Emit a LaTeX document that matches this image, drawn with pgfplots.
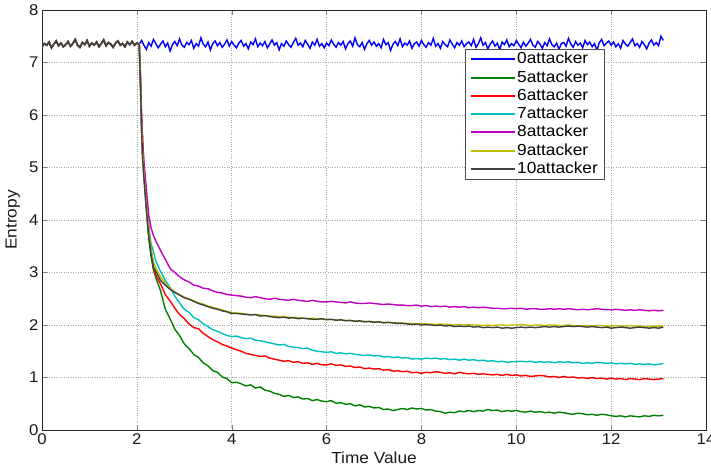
\documentclass[border=0pt]{standalone}
\usepackage{pgfplots}
\pgfplotsset{compat=1.18}
\usepackage{fontspec}
\setmainfont{Liberation Sans}
\newfontfamily\lblfont[FakeStretch=1.08]{Liberation Sans}
\definecolor{mblue}{rgb}{0,0,1}
\definecolor{mgreen}{rgb}{0,0.5,0}
\definecolor{mred}{rgb}{1,0,0}
\definecolor{mcyan}{rgb}{0,0.75,0.75}
\definecolor{mmag}{rgb}{0.75,0,0.75}
\definecolor{myel}{rgb}{0.75,0.75,0}
\definecolor{mblk}{rgb}{0.25,0.25,0.25}
\pgfplotstableread{
x y
0.00 7.30
0.05 7.36
0.10 7.33
0.15 7.39
0.20 7.28
0.25 7.35
0.30 7.41
0.35 7.32
0.40 7.37
0.45 7.30
0.50 7.34
0.55 7.40
0.60 7.31
0.65 7.36
0.70 7.44
0.75 7.33
0.80 7.29
0.85 7.38
0.90 7.34
0.95 7.42
1.00 7.31
1.05 7.37
1.10 7.33
1.15 7.39
1.20 7.30
1.25 7.36
1.30 7.43
1.35 7.32
1.40 7.38
1.45 7.35
1.50 7.29
1.55 7.37
1.60 7.41
1.65 7.33
1.70 7.36
1.75 7.30
1.80 7.39
1.85 7.34
1.90 7.40
1.95 7.33
2.00 7.37
2.05 7.35
}\flat
\begin{document}
\begin{tikzpicture}
\useasboundingbox (-42pt,-45pt) rectangle (669pt,430pt);
\begin{axis}[
  scale only axis, width=664pt, height=420pt,
  xmin=0, xmax=14, ymin=0, ymax=8,
  xtick={0,2,...,14}, ytick={0,1,...,8},
  tick pos=both, tick align=inside, major tick length=5pt,
  grid=major, grid style={dotted, gray!70, line width=0.6pt},
  axis line style={black!85, line width=0.8pt},
  /pgf/number format/assume math mode=true,
  tick label style={font=\lblfont\fontsize{15.5}{18}\selectfont, black!90},
  label style={font=\lblfont\fontsize{16}{18}\selectfont, black!90},
  xlabel={Time Value}, ylabel={Entropy},
  xlabel style={at={(axis description cs:0.5,-0.065)}, anchor=center},
  ylabel style={at={(axis description cs:-0.044,0.5)}, anchor=center},
  legend style={at={(0.637,0.907)}, anchor=north west, draw=black!70, fill=white,
    font=\lblfont\fontsize{16}{18}\selectfont, inner xsep=5pt, inner ysep=1.5pt, row sep=1.3pt,
    nodes={inner sep=1pt, text height=12pt, text depth=3pt}},
  legend cell align=left,
  legend image code/.code={\draw[#1, line width=2pt] (0pt,0pt) -- (44pt,0pt);},
  every axis plot/.append style={line width=1.4pt},
]
% 0 attacker
\addplot[mblue] table {\flat};
\addplot[mblue, forget plot] coordinates {
(2.05,7.35)(2.10,7.42)(2.15,7.33)(2.20,7.25)(2.25,7.38)(2.30,7.31)(2.35,7.44)(2.40,7.36)(2.45,7.28)
(2.50,7.35)(2.55,7.41)(2.60,7.30)(2.65,7.37)(2.70,7.22)(2.75,7.34)(2.80,7.40)(2.85,7.32)(2.90,7.45)(2.95,7.33)
(3.00,7.29)(3.05,7.38)(3.10,7.34)(3.15,7.42)(3.20,7.27)(3.25,7.36)(3.30,7.31)(3.35,7.47)(3.40,7.35)(3.45,7.30)
(3.50,7.39)(3.55,7.24)(3.60,7.36)(3.65,7.41)(3.70,7.32)(3.75,7.38)(3.80,7.29)(3.85,7.35)(3.90,7.43)(3.95,7.31)
(4.00,7.40)(4.05,7.33)(4.10,7.28)(4.15,7.37)(4.20,7.42)(4.25,7.31)(4.30,7.36)(4.35,7.26)(4.40,7.39)(4.45,7.34)
(4.50,7.45)(4.55,7.30)(4.60,7.37)(4.65,7.32)(4.70,7.40)(4.75,7.28)(4.80,7.35)(4.85,7.43)(4.90,7.33)(4.95,7.38)
(5.00,7.24)(5.05,7.36)(5.10,7.31)(5.15,7.41)(5.20,7.34)(5.25,7.29)(5.30,7.38)(5.35,7.46)(5.40,7.33)(5.45,7.37)
(5.50,7.30)(5.55,7.42)(5.60,7.35)(5.65,7.27)(5.70,7.39)(5.75,7.33)(5.80,7.44)(5.85,7.31)(5.90,7.36)(5.95,7.28)
(6.00,7.37)(6.05,7.32)(6.10,7.43)(6.15,7.35)(6.20,7.29)(6.25,7.38)(6.30,7.33)(6.35,7.40)(6.40,7.26)(6.45,7.36)
(6.50,7.41)(6.55,7.31)(6.60,7.47)(6.65,7.34)(6.70,7.30)(6.75,7.38)(6.80,7.25)(6.85,7.36)(6.90,7.42)(6.95,7.33)
(7.00,7.39)(7.05,7.31)(7.10,7.36)(7.15,7.28)(7.20,7.44)(7.25,7.34)(7.30,7.38)(7.35,7.23)(7.40,7.35)(7.45,7.40)
(7.50,7.32)(7.55,7.45)(7.60,7.30)(7.65,7.37)(7.70,7.33)(7.75,7.41)(7.80,7.27)(7.85,7.36)(7.90,7.39)(7.95,7.31)
(8.00,7.42)(8.05,7.34)(8.10,7.29)(8.15,7.38)(8.20,7.33)(8.25,7.46)(8.30,7.31)(8.35,7.36)(8.40,7.27)(8.45,7.40)
(8.50,7.34)(8.55,7.30)(8.60,7.43)(8.65,7.35)(8.70,7.28)(8.75,7.38)(8.80,7.33)(8.85,7.41)(8.90,7.30)(8.95,7.36)
(9.00,7.39)(9.05,7.32)(9.10,7.44)(9.15,7.29)(9.20,7.36)(9.25,7.47)(9.30,7.33)(9.35,7.38)(9.40,7.26)(9.45,7.35)
(9.50,7.41)(9.55,7.31)(9.60,7.37)(9.65,7.24)(9.70,7.39)(9.75,7.34)(9.80,7.43)(9.85,7.30)(9.90,7.36)(9.95,7.32)
(10.00,7.42)(10.05,7.35)(10.10,7.28)(10.15,7.39)(10.20,7.31)(10.25,7.37)(10.30,7.44)(10.35,7.33)(10.40,7.29)(10.45,7.40)
(10.50,7.35)(10.55,7.27)(10.60,7.38)(10.65,7.32)(10.70,7.45)(10.75,7.34)(10.80,7.30)(10.85,7.37)(10.90,7.25)(10.95,7.36)
(11.00,7.38)(11.05,7.31)(11.10,7.46)(11.15,7.35)(11.20,7.29)(11.25,7.40)(11.30,7.33)(11.35,7.37)(11.40,7.28)(11.45,7.42)
(11.50,7.34)(11.55,7.39)(11.60,7.30)(11.65,7.36)(11.70,7.23)(11.75,7.38)(11.80,7.44)(11.85,7.32)(11.90,7.37)(11.95,7.41)
(12.00,7.33)(12.05,7.39)(12.10,7.30)(12.15,7.36)(12.20,7.27)(12.25,7.42)(12.30,7.35)(12.35,7.31)(12.40,7.38)(12.45,7.45)
(12.50,7.32)(12.55,7.36)(12.60,7.29)(12.65,7.40)(12.70,7.34)(12.75,7.26)(12.80,7.37)(12.85,7.43)(12.90,7.33)(12.95,7.38)
(13.00,7.32)(13.05,7.50)(13.10,7.42)
};
\addlegendentry{0attacker}
% 5 attacker
\addplot[mgreen] table {\flat};
\addplot[mgreen, forget plot] coordinates {
(2.05,7.35)(2.08,6.4)(2.1,5.7)(2.12,5.2)(2.15,4.8)(2.2,4.2)(2.25,3.65)(2.3,3.30)(2.35,3.05)(2.4,2.90)(2.5,2.65)
(2.6,2.30)(2.7,2.12)(2.8,1.92)(2.9,1.80)(3.0,1.64)(3.1,1.55)(3.2,1.44)(3.3,1.38)(3.4,1.28)(3.5,1.22)
(3.6,1.13)(3.7,1.10)(3.8,1.01)(3.9,0.98)(4.0,0.90)(4.1,0.91)
(4.2,0.88)(4.3,0.84)(4.4,0.86)(4.5,0.80)(4.6,0.82)(4.7,0.76)(4.8,0.74)(4.9,0.70)(5.0,0.68)(5.1,0.64)
(5.2,0.66)(5.3,0.62)(5.4,0.63)(5.5,0.59)(5.6,0.60)(5.7,0.56)(5.8,0.58)(5.9,0.55)(6.0,0.54)(6.1,0.56)
(6.2,0.51)(6.3,0.52)(6.4,0.49)(6.5,0.50)(6.6,0.46)(6.7,0.48)(6.8,0.44)(6.9,0.45)(7.0,0.42)(7.1,0.43)
(7.2,0.39)(7.3,0.40)(7.4,0.37)(7.5,0.39)(7.6,0.41)(7.7,0.39)(7.8,0.42)(7.9,0.40)(8.0,0.41)(8.1,0.38)
(8.2,0.39)(8.3,0.36)(8.4,0.35)(8.5,0.32)(8.6,0.34)(8.7,0.33)(8.8,0.36)(8.9,0.35)(9.0,0.37)(9.1,0.35)
(9.2,0.37)(9.3,0.36)(9.4,0.39)(9.5,0.37)(9.6,0.38)(9.7,0.35)(9.8,0.37)(9.9,0.36)(10.0,0.37)(10.1,0.35)
(10.2,0.34)(10.3,0.36)(10.4,0.34)(10.5,0.35)(10.6,0.33)(10.7,0.34)(10.8,0.32)(10.9,0.34)(11.0,0.33)(11.1,0.31)
(11.2,0.30)(11.3,0.32)(11.4,0.31)(11.5,0.29)(11.6,0.30)(11.7,0.28)(11.8,0.30)(11.9,0.29)(12.0,0.27)(12.1,0.26)
(12.2,0.27)(12.3,0.25)(12.4,0.27)(12.5,0.26)(12.6,0.25)(12.7,0.27)(12.8,0.26)(12.9,0.28)(13.0,0.27)(13.1,0.28)
};
\addlegendentry{5attacker}
% 6 attacker
\addplot[mred] table {\flat};
\addplot[mred, forget plot] coordinates {
(2.05,7.35)(2.08,6.6)(2.1,5.9)(2.12,5.6)(2.15,5.0)(2.2,4.5)(2.25,3.9)(2.3,3.45)(2.35,3.10)(2.4,2.95)(2.5,2.78)
(2.6,2.58)(2.7,2.46)(2.8,2.32)(2.9,2.20)(3.0,2.12)(3.1,2.02)(3.2,1.95)(3.3,1.93)(3.4,1.84)(3.5,1.78)
(3.6,1.72)(3.7,1.68)(3.8,1.63)(3.9,1.60)(4.0,1.56)(4.1,1.53)
(4.2,1.50)(4.3,1.46)(4.4,1.44)(4.5,1.42)(4.6,1.40)(4.7,1.41)(4.8,1.37)(4.9,1.35)(5.0,1.33)(5.1,1.31)
(5.2,1.32)(5.3,1.29)(5.4,1.30)(5.5,1.27)(5.6,1.28)(5.7,1.25)(5.8,1.27)(5.9,1.24)(6.0,1.24)(6.1,1.26)
(6.2,1.23)(6.3,1.24)(6.4,1.21)(6.5,1.22)(6.6,1.19)(6.7,1.20)(6.8,1.17)(6.9,1.18)(7.0,1.16)(7.1,1.17)
(7.2,1.14)(7.3,1.15)(7.4,1.12)(7.5,1.13)(7.6,1.11)(7.7,1.12)(7.8,1.09)(7.9,1.10)(8.0,1.08)(8.1,1.10)
(8.2,1.09)(8.3,1.11)(8.4,1.10)(8.5,1.08)(8.6,1.09)(8.7,1.07)(8.8,1.10)(8.9,1.08)(9.0,1.07)(9.1,1.08)
(9.2,1.06)(9.3,1.07)(9.4,1.06)(9.5,1.05)(9.6,1.06)(9.7,1.04)(9.8,1.06)(9.9,1.04)(10.0,1.05)(10.1,1.03)
(10.2,1.04)(10.3,1.02)(10.4,1.03)(10.5,1.04)(10.6,1.03)(10.7,1.01)(10.8,1.02)(10.9,1.00)(11.0,1.02)(11.1,1.00)
(11.2,1.01)(11.3,0.99)(11.4,1.00)(11.5,0.98)(11.6,1.00)(11.7,0.98)(11.8,0.99)(11.9,0.97)(12.0,0.99)(12.1,0.97)
(12.2,0.98)(12.3,0.96)(12.4,0.98)(12.5,0.97)(12.6,0.96)(12.7,0.98)(12.8,0.97)(12.9,0.96)(13.0,0.97)(13.1,0.98)
};
\addlegendentry{6attacker}
% 7 attacker
\addplot[mcyan] table {\flat};
\addplot[mcyan, forget plot] coordinates {
(2.05,7.35)(2.08,6.5)(2.1,5.8)(2.12,5.3)(2.15,4.9)(2.2,4.35)(2.25,3.85)(2.3,3.55)(2.35,3.40)(2.4,3.22)(2.5,3.02)
(2.6,2.85)(2.7,2.72)(2.8,2.55)(2.9,2.42)(3.0,2.30)(3.1,2.24)(3.2,2.14)(3.3,2.10)(3.4,2.02)(3.5,1.97)
(3.6,1.91)(3.7,1.88)(3.8,1.84)(3.9,1.80)(4.0,1.78)(4.1,1.79)
(4.2,1.76)(4.3,1.74)(4.4,1.75)(4.5,1.71)(4.6,1.70)(4.7,1.68)(4.8,1.66)(4.9,1.64)(5.0,1.62)(5.1,1.63)
(5.2,1.59)(5.3,1.58)(5.4,1.57)(5.5,1.55)(5.6,1.56)(5.7,1.52)(5.8,1.50)(5.9,1.49)(6.0,1.48)(6.1,1.49)
(6.2,1.46)(6.3,1.47)(6.4,1.45)(6.5,1.46)(6.6,1.44)(6.7,1.43)(6.8,1.42)(6.9,1.43)(7.0,1.41)(7.1,1.42)
(7.2,1.39)(7.3,1.40)(7.4,1.38)(7.5,1.39)(7.6,1.37)(7.7,1.38)(7.8,1.35)(7.9,1.36)(8.0,1.35)(8.1,1.37)
(8.2,1.36)(8.3,1.37)(8.4,1.35)(8.5,1.36)(8.6,1.34)(8.7,1.35)(8.8,1.33)(8.9,1.35)(9.0,1.33)(9.1,1.34)
(9.2,1.32)(9.3,1.33)(9.4,1.31)(9.5,1.32)(9.6,1.30)(9.7,1.31)(9.8,1.29)(9.9,1.30)(10.0,1.30)(10.1,1.31)
(10.2,1.30)(10.3,1.31)(10.4,1.29)(10.5,1.30)(10.6,1.29)(10.7,1.30)(10.8,1.28)(10.9,1.30)(11.0,1.29)(11.1,1.30)
(11.2,1.28)(11.3,1.29)(11.4,1.27)(11.5,1.28)(11.6,1.27)(11.7,1.29)(11.8,1.28)(11.9,1.27)(12.0,1.28)(12.1,1.26)
(12.2,1.27)(12.3,1.26)(12.4,1.27)(12.5,1.25)(12.6,1.26)(12.7,1.25)(12.8,1.26)(12.9,1.24)(13.0,1.25)(13.1,1.27)
};
\addlegendentry{7attacker}
% 8 attacker
\addplot[mmag] table {\flat};
\addplot[mmag, forget plot] coordinates {
(2.05,7.35)(2.08,6.7)(2.1,6.0)(2.12,5.5)(2.15,5.1)(2.2,4.6)(2.25,4.1)(2.3,3.85)(2.35,3.7)(2.4,3.6)(2.5,3.42)
(2.6,3.25)(2.7,3.08)(2.8,3.00)(2.9,2.92)(3.0,2.86)(3.1,2.82)(3.2,2.76)(3.3,2.74)(3.4,2.70)(3.5,2.69)
(3.6,2.65)(3.7,2.62)(3.8,2.61)(3.9,2.58)(4.0,2.57)(4.1,2.56)
(4.2,2.55)(4.3,2.53)(4.4,2.52)(4.5,2.54)(4.6,2.52)(4.7,2.50)(4.8,2.49)(4.9,2.51)(5.0,2.49)(5.1,2.48)
(5.2,2.47)(5.3,2.49)(5.4,2.47)(5.5,2.46)(5.6,2.45)(5.7,2.47)(5.8,2.45)(5.9,2.44)(6.0,2.44)(6.1,2.45)
(6.2,2.44)(6.3,2.43)(6.4,2.42)(6.5,2.44)(6.6,2.42)(6.7,2.41)(6.8,2.41)(6.9,2.42)(7.0,2.41)(7.1,2.40)
(7.2,2.39)(7.3,2.40)(7.4,2.39)(7.5,2.38)(7.6,2.38)(7.7,2.37)(7.8,2.37)(7.9,2.38)(8.0,2.36)(8.1,2.37)
(8.2,2.35)(8.3,2.36)(8.4,2.35)(8.5,2.36)(8.6,2.34)(8.7,2.35)(8.8,2.34)(8.9,2.35)(9.0,2.33)(9.1,2.34)
(9.2,2.33)(9.3,2.34)(9.4,2.33)(9.5,2.32)(9.6,2.32)(9.7,2.31)(9.8,2.31)(9.9,2.32)(10.0,2.31)(10.1,2.32)
(10.2,2.30)(10.3,2.31)(10.4,2.31)(10.5,2.30)(10.6,2.30)(10.7,2.31)(10.8,2.30)(10.9,2.31)(11.0,2.30)(11.1,2.31)
(11.2,2.30)(11.3,2.29)(11.4,2.30)(11.5,2.29)(11.6,2.30)(11.7,2.31)(11.8,2.30)(11.9,2.29)(12.0,2.29)(12.1,2.30)
(12.2,2.29)(12.3,2.28)(12.4,2.29)(12.5,2.28)(12.6,2.29)(12.7,2.28)(12.8,2.27)(12.9,2.28)(13.0,2.27)(13.1,2.28)
};
\addlegendentry{8attacker}
% 9 attacker
\addplot[myel] table {\flat};
\addplot[myel, forget plot] coordinates {
(2.05,7.35)(2.08,6.6)(2.1,5.8)(2.12,5.3)(2.15,4.9)(2.2,4.3)(2.25,3.8)(2.3,3.45)(2.35,3.2)(2.4,3.08)(2.5,2.92)
(2.6,2.80)(2.7,2.70)(2.8,2.63)(2.9,2.58)(3.0,2.53)(3.1,2.50)(3.2,2.46)(3.3,2.42)(3.4,2.40)(3.5,2.36)
(3.6,2.34)(3.7,2.31)(3.8,2.29)(3.9,2.26)(4.0,2.24)(4.1,2.23)
(4.2,2.22)(4.3,2.21)(4.4,2.20)(4.5,2.20)(4.6,2.19)(4.7,2.18)(4.8,2.17)(4.9,2.17)(5.0,2.16)(5.1,2.16)
(5.2,2.15)(5.3,2.14)(5.4,2.14)(5.5,2.13)(5.6,2.12)(5.7,2.13)(5.8,2.12)(5.9,2.11)(6.0,2.11)(6.1,2.10)
(6.2,2.10)(6.3,2.09)(6.4,2.09)(6.5,2.08)(6.6,2.08)(6.7,2.07)(6.8,2.07)(6.9,2.06)(7.0,2.06)(7.1,2.06)
(7.2,2.05)(7.3,2.05)(7.4,2.04)(7.5,2.04)(7.6,2.04)(7.7,2.03)(7.8,2.03)(7.9,2.02)(8.0,2.03)(8.1,2.02)
(8.2,2.02)(8.3,2.01)(8.4,2.02)(8.5,2.01)(8.6,2.01)(8.7,2.00)(8.8,2.01)(8.9,2.00)(9.0,2.01)(9.1,2.00)
(9.2,2.00)(9.3,1.99)(9.4,2.00)(9.5,1.99)(9.6,2.00)(9.7,2.00)(9.8,1.99)(9.9,2.00)(10.0,2.00)(10.1,2.01)
(10.2,2.00)(10.3,1.99)(10.4,2.00)(10.5,2.00)(10.6,1.99)(10.7,2.00)(10.8,2.00)(10.9,1.99)(11.0,1.99)(11.1,2.00)
(11.2,1.99)(11.3,1.98)(11.4,1.99)(11.5,1.99)(11.6,1.98)(11.7,1.99)(11.8,1.99)(11.9,1.98)(12.0,1.98)(12.1,1.99)
(12.2,1.98)(12.3,1.98)(12.4,1.99)(12.5,1.98)(12.6,1.98)(12.7,1.97)(12.8,1.97)(12.9,1.98)(13.0,1.98)(13.1,1.98)
};
\addlegendentry{9attacker}
% 10 attacker
\addplot[mblk, line width=1.6pt] table {\flat};
\addplot[mblk, forget plot] coordinates {
(2.05,7.35)(2.08,6.5)(2.1,5.7)(2.12,5.2)(2.15,4.8)(2.2,4.2)(2.25,3.7)(2.3,3.35)(2.35,3.1)(2.4,3.02)(2.5,2.85)
(2.6,2.76)(2.7,2.68)(2.8,2.62)(2.9,2.57)(3.0,2.52)(3.1,2.49)(3.2,2.45)(3.3,2.41)(3.4,2.38)(3.5,2.35)
(3.6,2.32)(3.7,2.30)(3.8,2.27)(3.9,2.25)(4.0,2.22)(4.1,2.22)
(4.2,2.21)(4.3,2.20)(4.4,2.19)(4.5,2.20)(4.6,2.17)(4.7,2.18)(4.8,2.16)(4.9,2.15)(5.0,2.14)(5.1,2.15)
(5.2,2.13)(5.3,2.14)(5.4,2.12)(5.5,2.13)(5.6,2.12)(5.7,2.11)(5.8,2.11)(5.9,2.12)(6.0,2.10)(6.1,2.11)
(6.2,2.09)(6.3,2.10)(6.4,2.08)(6.5,2.09)(6.6,2.07)(6.7,2.08)(6.8,2.06)(6.9,2.07)(7.0,2.05)(7.1,2.06)
(7.2,2.04)(7.3,2.05)(7.4,2.04)(7.5,2.03)(7.6,2.03)(7.7,2.02)(7.8,2.01)(7.9,2.02)(8.0,2.00)(8.1,2.01)
(8.2,2.00)(8.3,1.99)(8.4,2.00)(8.5,1.98)(8.6,1.99)(8.7,1.97)(8.8,1.98)(8.9,1.97)(9.0,1.98)(9.1,1.96)
(9.2,1.97)(9.3,1.95)(9.4,1.96)(9.5,1.95)(9.6,1.96)(9.7,1.94)(9.8,1.95)(9.9,1.94)(10.0,1.95)(10.1,1.96)
(10.2,1.95)(10.3,1.96)(10.4,1.95)(10.5,1.96)(10.6,1.97)(10.7,1.96)(10.8,1.97)(10.9,1.96)(11.0,1.97)(11.1,1.98)
(11.2,1.97)(11.3,1.98)(11.4,1.97)(11.5,1.96)(11.6,1.97)(11.7,1.96)(11.8,1.95)(11.9,1.96)(12.0,1.94)(12.1,1.95)
(12.2,1.96)(12.3,1.95)(12.4,1.94)(12.5,1.95)(12.6,1.96)(12.7,1.95)(12.8,1.94)(12.9,1.95)(13.0,1.94)(13.1,1.96)
};
\addlegendentry{10attacker}
\node[font=\lblfont\fontsize{15}{17}\selectfont, black!90] at (rel axis cs:0.964,-0.08) {x 10\textsuperscript{4}};
\end{axis}
\end{tikzpicture}
\end{document}
